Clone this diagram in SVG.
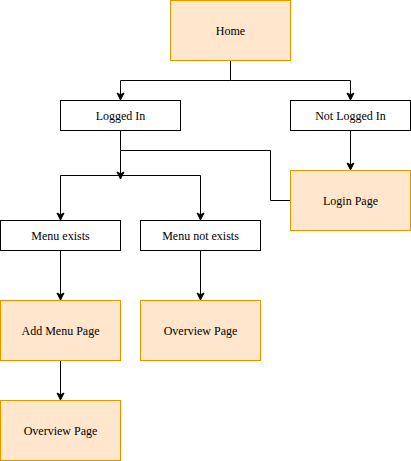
<svg xmlns="http://www.w3.org/2000/svg" width="411" height="461" viewBox="0 0 411 461">
<style>
.w{fill:#ffffff;stroke:#000000;stroke-width:1}
.o{fill:#ffe6cc;stroke:#d79b00;stroke-width:1}
.t{font-family:"Liberation Serif","Times New Roman",serif;font-size:12px;fill:#000000;text-anchor:middle;dominant-baseline:central}
.c{fill:none;stroke:#000000;stroke-width:1}
</style>
<defs>
<marker id="a" markerUnits="userSpaceOnUse" markerWidth="10" markerHeight="10" viewBox="-8 -5 10 10" refX="0" refY="0" orient="auto">
<path d="M0,0 L-7,-3.5 L-5.25,0 L-7,3.5 Z" fill="#000000" stroke="#000000" stroke-width="1"/>
</marker>
</defs>
<rect width="411" height="461" fill="#ffffff"/>
<g id="connectors">
<path class="c" d="M230.5,60.5 V80.5 H120.5 V100" marker-end="url(#a)"/>
<path class="c" d="M230.5,80.5 H350.5 V100" marker-end="url(#a)"/>
<path class="c" d="M350.5,130.5 V170" marker-end="url(#a)"/>
<path class="c" d="M120.5,130.5 V150.5 H270.5 V200.5 H290.5"/>
<path class="c" d="M120.5,150.5 V179" marker-end="url(#a)"/>
<path class="c" d="M120.5,175.5 H60.5 V220" marker-end="url(#a)"/>
<path class="c" d="M120.5,175.5 H200.5 V220" marker-end="url(#a)"/>
<path class="c" d="M60.5,250.5 V300" marker-end="url(#a)"/>
<path class="c" d="M200.5,250.5 V300" marker-end="url(#a)"/>
<path class="c" d="M60.5,360.5 V400" marker-end="url(#a)"/>
</g>
<g id="home"><rect class="o" x="170.5" y="0.5" width="120" height="60"/><text class="t" x="230.5" y="30.5">Home</text></g>
<g id="logged-in"><rect class="w" x="60.5" y="100.5" width="120" height="30"/><text class="t" x="120.5" y="115.5">Logged In</text></g>
<g id="not-logged-in"><rect class="w" x="290.5" y="100.5" width="120" height="30"/><text class="t" x="350.5" y="115.5">Not Logged In</text></g>
<g id="login-page"><rect class="o" x="290.5" y="170.5" width="120" height="60"/><text class="t" x="350.5" y="200.5">Login Page</text></g>
<g id="menu-exists"><rect class="w" x="0.5" y="220.5" width="120" height="30"/><text class="t" x="60.5" y="235.5">Menu exists</text></g>
<g id="menu-not-exists"><rect class="w" x="140.5" y="220.5" width="120" height="30"/><text class="t" x="200.5" y="235.5">Menu not exists</text></g>
<g id="add-menu-page"><rect class="o" x="0.5" y="300.5" width="120" height="60"/><text class="t" x="60.5" y="330.5">Add Menu Page</text></g>
<g id="overview-page-1"><rect class="o" x="140.5" y="300.5" width="120" height="60"/><text class="t" x="200.5" y="330.5">Overview Page</text></g>
<g id="overview-page-2"><rect class="o" x="0.5" y="400.5" width="120" height="60"/><text class="t" x="60.5" y="430.5">Overview Page</text></g>
</svg>
